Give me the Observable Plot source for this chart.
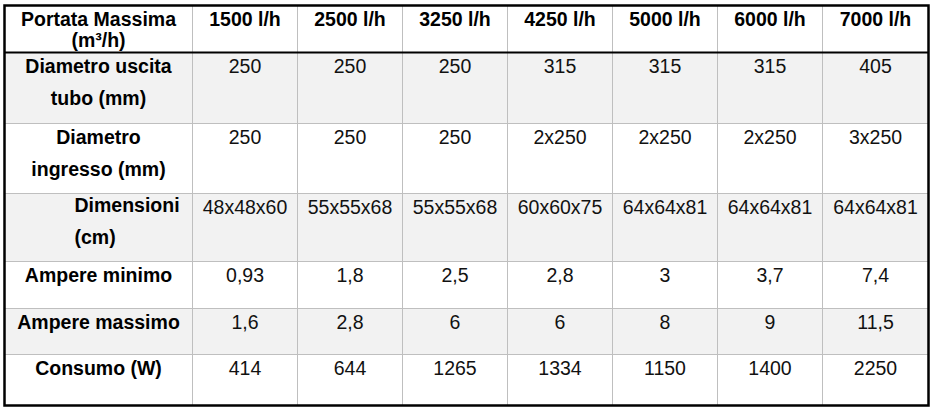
<!DOCTYPE html>
<html>
<head>
<meta charset="utf-8">
<script src="https://cdn.jsdelivr.net/npm/d3@7"></script>
<script src="https://cdn.jsdelivr.net/npm/@observablehq/plot@0.6"></script>
<style>
  body { margin: 0; background: #fff; }
  #chart svg { display: block; }
</style>
</head>
<body>
<div id="chart"></div>
<script>
// table contents
const headerLabel = "Portata Massima\n(m³/h)";
const portate = ["1500 l/h", "2500 l/h", "3250 l/h", "4250 l/h", "5000 l/h", "6000 l/h", "7000 l/h"];
const rowLabels = ["Diametro uscita\ntubo (mm)", "Diametro\ningresso (mm)", "Dimensioni\n(cm)", "Ampere minimo", "Ampere massimo", "Consumo (W)"];
const diametroUscita = [250, 250, 250, 315, 315, 315, 405];
const diametroIngresso = ["250", "250", "250", "2x250", "2x250", "2x250", "3x250"];
const dimensioni = ["48x48x60", "55x55x68", "55x55x68", "60x60x75", "64x64x81", "64x64x81", "64x64x81"];
const ampereMinimo = [0.93, 1.8, 2.5, 2.8, 3, 3.7, 7.4];
const ampereMassimo = [1.6, 2.8, 6, 6, 8, 9, 11.5];
const consumo = [414, 644, 1265, 1334, 1150, 1400, 2250];

// layout of the grid
const colWidths = [188, 105, 105, 105, 105, 105, 105, 106];
const rowHeights = [47, 71, 70, 68, 47, 46, 51];

const colEdges = [0, ...d3.cumsum(colWidths)];
const rowEdges = [0, ...d3.cumsum(rowHeights)];

const virgola = v => String(v).replace(".", ",");
const rows = [diametroUscita, diametroIngresso, dimensioni, ampereMinimo, ampereMassimo, consumo];

const cells = [];
cells.push({row: 0, col: 0, text: headerLabel});
portate.forEach((p, i) => cells.push({row: 0, col: i + 1, text: p}));
rowLabels.forEach((l, r) => {
  cells.push({row: r + 1, col: 0, text: l});
  rows[r].forEach((v, i) => cells.push({row: r + 1, col: i + 1, text: virgola(v)}));
});

const cellX = d => (colEdges[d.col] + colEdges[d.col + 1]) / 2;
const cellTop = d => rowEdges[d.row];

const font = "Arial, 'Liberation Sans', sans-serif";
const fs = 19.5;

const chart = Plot.plot({
  width: 938,
  height: 411,
  marginLeft: 4,
  marginRight: 10,
  marginTop: 5,
  marginBottom: 6,
  x: {domain: [0, colEdges[colEdges.length - 1]], range: [4, 928], axis: null},
  y: {domain: [0, rowEdges[rowEdges.length - 1]], range: [5, 405], axis: null},
  style: {fontFamily: font, background: "#fff"},
  marks: [
    // striped rows
    Plot.rect(d3.range(rowHeights.length).filter(r => r % 2 === 1), {
      x1: 0,
      x2: colEdges[colEdges.length - 1],
      y1: r => rowEdges[r],
      y2: r => rowEdges[r + 1],
      fill: "#f2f2f2"
    }),
    // inner grid
    Plot.ruleX(colEdges.slice(1, -1), {y1: 0, y2: rowEdges[rowEdges.length - 1], stroke: "#bfbfbf", strokeWidth: 1}),
    Plot.ruleY(rowEdges.slice(2, -1), {x1: 0, x2: colEdges[colEdges.length - 1], stroke: "#bfbfbf", strokeWidth: 1}),
    // header separator
    Plot.ruleY([rowEdges[1]], {x1: 0, x2: colEdges[colEdges.length - 1], stroke: "#000", strokeWidth: 2}),
    Plot.frame({stroke: "#000", strokeWidth: 2.5}),

    // header row
    Plot.text(cells.filter(d => d.row === 0), {
      x: cellX, y: cellTop, text: "text",
      lineAnchor: "top", dy: 6, lineHeight: 1.06,
      fontSize: fs, fontWeight: "bold", fill: "#000"
    }),
    // row labels (centered)
    Plot.text(cells.filter(d => d.row > 0 && d.col === 0 && d.row !== 3), {
      x: cellX, y: cellTop, text: "text",
      lineAnchor: "top", dy: -2, lineHeight: 1.64,
      fontSize: fs, fontWeight: "bold", fill: "#000"
    }),
    // "Dimensioni (cm)" is left aligned with an indent
    Plot.text(cells.filter(d => d.row === 3 && d.col === 0), {
      x: d => colEdges[d.col], y: cellTop, text: "text",
      textAnchor: "start", dx: 70,
      lineAnchor: "top", dy: -4, lineHeight: 1.64,
      fontSize: fs, fontWeight: "bold", fill: "#000"
    }),
    // values
    Plot.text(cells.filter(d => d.row > 0 && d.col > 0), {
      x: cellX, y: cellTop, text: "text",
      lineAnchor: "top", dy: 7,
      fontSize: fs, fill: "#111"
    })
  ]
});

d3.select("#chart").append(() => chart);
</script>
</body>
</html>
